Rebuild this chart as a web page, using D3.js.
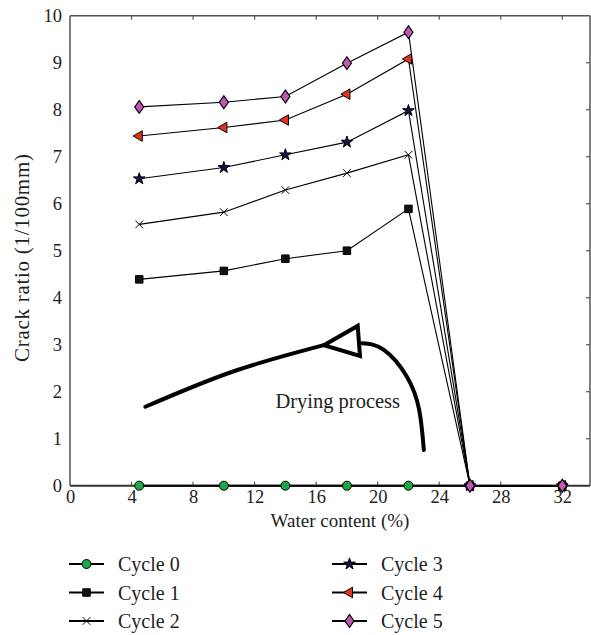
<!DOCTYPE html>
<html>
<head>
<meta charset="utf-8">
<script src="https://cdn.jsdelivr.net/npm/d3@7"></script>
<style>
  body { margin: 0; background: #fff; }
  svg text { font-family: "Liberation Serif", "DejaVu Serif", serif; fill: #222; }
</style>
</head>
<body>
<div id="main"></div>
<script>
/////////////
// DATA    //
/////////////

const water = [4.5, 10, 14, 18, 22, 26, 32]

const cycle0 = [0, 0, 0, 0, 0, 0, 0]
const cycle1 = [4.39, 4.57, 4.83, 5.0, 5.89, 0, 0]
const cycle2 = [5.56, 5.82, 6.29, 6.65, 7.04, 0, 0]
const cycle3 = [6.53, 6.77, 7.04, 7.31, 7.98, 0, 0]
const cycle4 = [7.44, 7.62, 7.78, 8.33, 9.08, 0, 0]
const cycle5 = [8.06, 8.16, 8.28, 8.99, 9.65, 0, 0]

const names = ["Cycle 0", "Cycle 1", "Cycle 2", "Cycle 3", "Cycle 4", "Cycle 5"]
const xTicks = [0, 4, 8, 12, 16, 20, 24, 28, 32]
const yTicks = [0, 1, 2, 3, 4, 5, 6, 7, 8, 9, 10]

// "Drying process" arrow, in data units
const arrowShaft = [[4.9, 1.68], [10.6, 2.43], [16.5, 2.99]]
const arrowHead  = [[16.5, 2.99], [18.7, 3.40], [18.85, 2.76]]
const arrowTail  = [[19.0, 3.03], [20.4, 2.89], [21.9, 2.32], [22.7, 1.61], [23.0, 0.76]]
const arrowLabel = [13.35, 1.65]

/////////////
// SETUP   //
/////////////

const width = 591
const height = 635

const x = d3.scaleLinear().domain([0, 33.8]).range([70, 590])
const y = d3.scaleLinear().domain([0, 10]).range([485.7, 15.7])

const series = [cycle0, cycle1, cycle2, cycle3, cycle4, cycle5]
    .map((vals, i) => ({ name: names[i], i: i, pts: water.map((w, j) => [w, vals[j]]) }))

const sym = d3.symbol()
const markers = [
    { type: d3.symbolCircle,   size: 64, fill: "#1fa64a", rot: 0,   sx: 1 },
    { type: d3.symbolSquare,   size: 56, fill: "#111",    rot: 0,   sx: 1 },
    { type: d3.symbolTimes,    size: 40, fill: "none",    rot: 0,   sx: 1 },
    { type: d3.symbolStar,     size: 42, fill: "#12124a", rot: 0,   sx: 1 },
    { type: d3.symbolTriangle, size: 48, fill: "#e8321e", rot: -90, sx: 1 },
    { type: d3.symbolDiamond,  size: 48, fill: "#c256b4", rot: 0,   sx: 1.22 }
]

function drawMarker(g, i, cx, cy){
    const m = markers[i]
    g.append("path")
        .attr("d", sym.type(m.type).size(m.size)())
        .attr("transform", `translate(${cx},${cy}) rotate(${m.rot}) scale(${m.sx},1)`)
        .attr("fill", m.fill)
        .attr("stroke", "#000")
        .attr("stroke-width", 1)
}

/////////////
// DRAW    //
/////////////

const svg = d3.select("#main").append("svg")
    .attr("width", width)
    .attr("height", height)

// frame
const frame = svg.append("g").attr("stroke", "#555").attr("stroke-width", 1.5)
frame.append("line").attr("x1", x(0)).attr("x2", x(0)).attr("y1", y(0)).attr("y2", y(10))
frame.append("line").attr("x1", x(0)).attr("x2", x(33.8)).attr("y1", y(10)).attr("y2", y(10))
frame.append("line").attr("x1", x(33.8)).attr("x2", x(33.8)).attr("y1", y(0)).attr("y2", y(10))
frame.append("line").attr("x1", x(0)).attr("x2", x(33.8)).attr("y1", y(0)).attr("y2", y(0))
    .attr("stroke", "#333").attr("stroke-width", 2)

// inward ticks: top, bottom, right
const tickX = xTicks.filter(d => d > 0)
const tickY = yTicks.filter(d => d > 0 && d < 10)
const ticks = svg.append("g").attr("stroke", "#555").attr("stroke-width", 1.2)
ticks.selectAll("line.top").data(tickX).enter().append("line")
    .attr("x1", d => x(d)).attr("x2", d => x(d)).attr("y1", y(10)).attr("y2", y(10) + 4)
ticks.selectAll("line.bot").data(tickX).enter().append("line")
    .attr("x1", d => x(d)).attr("x2", d => x(d)).attr("y1", y(0)).attr("y2", y(0) - 4)
ticks.selectAll("line.right").data(tickY).enter().append("line")
    .attr("x1", x(33.8)).attr("x2", x(33.8) - 4).attr("y1", d => y(d)).attr("y2", d => y(d))

// tick labels via axes
const xAxis = svg.append("g")
    .attr("transform", `translate(0,${y(0)})`)
    .call(d3.axisBottom(x).tickValues(xTicks).tickSize(0).tickPadding(4))
xAxis.select(".domain").remove()
xAxis.selectAll("text").attr("font-size", 18.5).attr("font-family", null)

const yAxis = svg.append("g")
    .attr("transform", `translate(${x(0)},0)`)
    .call(d3.axisLeft(y).tickValues(yTicks).tickSize(0).tickPadding(8))
yAxis.select(".domain").remove()
yAxis.selectAll("text").attr("font-size", 18.5).attr("font-family", null)

svg.append("text")
    .attr("x", 340).attr("y", 527)
    .attr("text-anchor", "middle")
    .attr("font-size", 19)
    .text("Water content (%)")

svg.append("text")
    .attr("transform", "translate(29,258) rotate(-90)")
    .attr("text-anchor", "middle")
    .attr("font-size", 21)
    .attr("textLength", 208)
    .text("Crack ratio (1/100mm)")

// series
const line = d3.line().x(d => x(d[0])).y(d => y(d[1]))
series.forEach(s => {
    svg.append("path")
        .datum(s.pts)
        .attr("d", line)
        .attr("fill", "none")
        .attr("stroke", "#000")
        .attr("stroke-width", s.i === 0 ? 2 : 1.1)
})
series.forEach(s => {
    const g = svg.append("g")
    s.pts.forEach(p => drawMarker(g, s.i, x(p[0]), y(p[1])))
})

// drying arrow
const curve = d3.line().x(d => x(d[0])).y(d => y(d[1])).curve(d3.curveNatural)
svg.append("path").datum(arrowShaft).attr("d", curve)
    .attr("fill", "none").attr("stroke", "#000").attr("stroke-width", 4).attr("stroke-linecap", "round")
svg.append("path").datum(arrowTail).attr("d", curve)
    .attr("fill", "none").attr("stroke", "#000").attr("stroke-width", 4).attr("stroke-linecap", "round")
svg.append("path").datum(arrowHead).attr("d", d => line(d) + "Z")
    .attr("fill", "#fff").attr("stroke", "#000").attr("stroke-width", 4).attr("stroke-linejoin", "miter")

svg.append("text")
    .attr("x", x(arrowLabel[0])).attr("y", y(arrowLabel[1]))
    .attr("font-size", 20.5)
    .text("Drying process")

// legend
const legend = svg.append("g")
series.forEach(s => {
    const col = s.i < 3 ? 0 : 1
    const row = s.i % 3
    const lx = col ? 332 : 69
    const ly = 564 + row * 28.5
    const g = legend.append("g")
    g.append("line").attr("x1", lx).attr("x2", lx + 35).attr("y1", ly).attr("y2", ly)
        .attr("stroke", "#000").attr("stroke-width", 2)
    drawMarker(g, s.i, lx + 17.5, ly)
    g.append("text").attr("x", lx + 49).attr("y", ly + 7)
        .attr("font-size", 20)
        .text(s.name)
})
</script>
</body>
</html>
